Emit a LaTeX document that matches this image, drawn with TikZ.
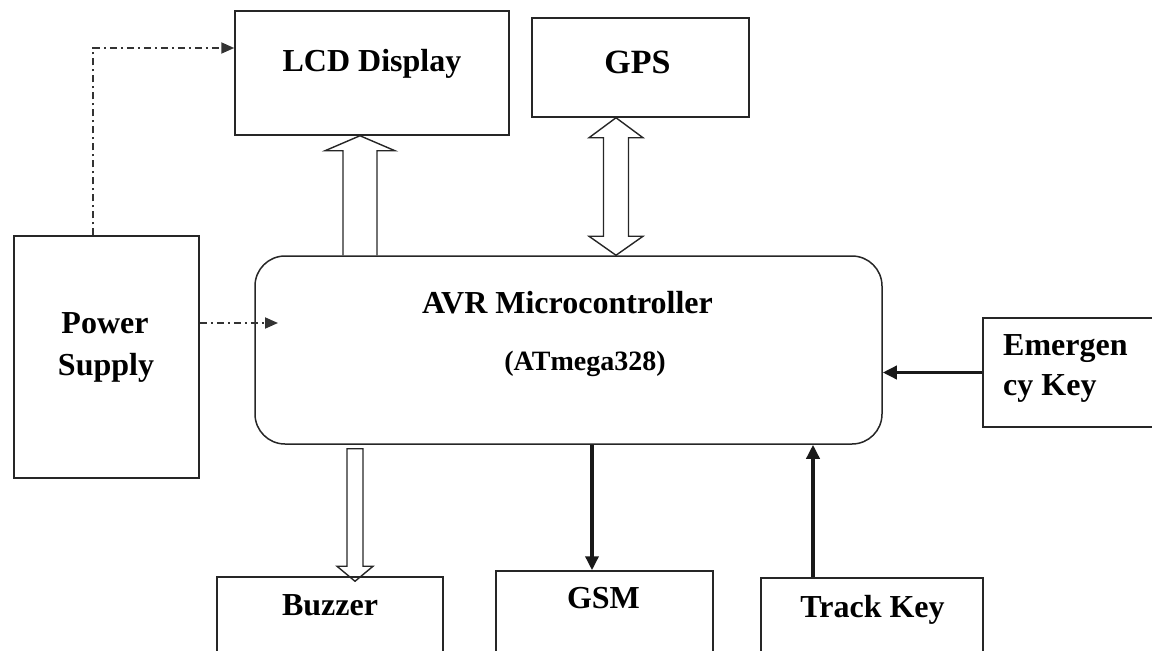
\documentclass[tikz,border=0pt]{standalone}
\usepackage{fontspec}
\setmainfont{Liberation Serif}
\usetikzlibrary{arrows.meta, calc, positioning}

\tikzset{
  box/.style={draw=black!85, line width=1.5pt, inner sep=0pt},
  txt/.style={font=\fontsize{32}{38}\selectfont\bfseries, inner sep=0pt, anchor=base},
  hollow/.style={draw=black!85, line width=1.4pt, line join=miter},
  bus/.style={line width=3.4pt, black!90, -{Triangle[length=14pt, width=13pt]}},
  supply/.style={line width=1.9pt, black!80, dash pattern=on 7pt off 4pt on 2pt off 4pt,
    -{Triangle[length=13pt, width=11pt]}}
}

\begin{document}
\begin{tikzpicture}[x=1pt, y=-1pt]
\useasboundingbox (0,0) rectangle (1152,651);

% blocks
\node[box, minimum width=274pt, minimum height=124pt] (lcd) at (372,73) {};
\node[box, minimum width=217pt, minimum height=99pt] (gps) at (640.5,67.5) {};
\node[box, rounded corners=30pt, minimum width=627pt, minimum height=188pt] (avr) at (568.5,350) {};
\node[box, minimum width=185pt, minimum height=242pt] (psu) at (106.5,357) {};
\node[box, minimum width=182pt, minimum height=109pt] (emkey) at (1074,372.5) {};
\node[box, minimum width=226pt, minimum height=123pt] (buzzer) at (330,638.5) {};
\node[box, minimum width=217pt, minimum height=129pt] (gsm) at (604.5,635.5) {};
\node[box, minimum width=222pt, minimum height=122pt] (trkey) at (872,639) {};

% labels
\node[txt] (lcdtxt) at (372,71) {LCD Display};
\node[txt, font=\fontsize{34}{40}\selectfont\bfseries] (gpstxt) at (637.5,73) {GPS};
\node[txt] (avrtxt) at (567.5,313) {AVR Microcontroller};
\node[txt, font=\fontsize{28}{34}\selectfont\bfseries] (mcutxt) at (585,370) {(ATmega328)};
\node[txt] (psutxt) at (105,333) {Power};
\node[txt] (psutxt2) at (106,375) {Supply};
\node[txt, anchor=base west] (emtxt) at (1003,355) {Emergen};
\node[txt, anchor=base west] (emtxt2) at (1003,395) {cy Key};
\node[txt] (bztxt) at (330,615) {Buzzer};
\node[txt] (gsmtxt) at (603.5,608) {GSM};
\node[txt] (trtxt) at (872.5,617) {Track Key};

% hollow bus arrows
\coordinate (lcdtip) at (lcd.south -| 360,0);
\coordinate (lcdfoot) at (avr.north -| 360,0);
\draw[hollow] ($(lcdfoot)+(-17,0)$) -- ($(lcdtip)+(-17,15)$) -- ($(lcdtip)+(-35,15)$) -- (lcdtip)
  -- ($(lcdtip)+(35,15)$) -- ($(lcdtip)+(17,15)$) -- ($(lcdfoot)+(17,0)$);

\coordinate (gpstip) at (gps.south -| 616,0);
\coordinate (gpsfoot) at (avr.north -| 616,0);
\draw[hollow] ($(gpstip)+(-12.5,20)$) -- ($(gpstip)+(-27,20)$) -- (gpstip) -- ($(gpstip)+(27,20)$)
  -- ($(gpstip)+(12.5,20)$) -- ($(gpsfoot)+(12.5,-19)$) -- ($(gpsfoot)+(27,-19)$) -- (gpsfoot)
  -- ($(gpsfoot)+(-27,-19)$) -- ($(gpsfoot)+(-12.5,-19)$) -- cycle;

\coordinate (bzfoot) at ($(avr.south -| 355,0)+(0,4)$);
\coordinate (bztip) at ($(buzzer.north -| 355,0)+(0,5)$);
\draw[hollow] ($(bzfoot)+(-8,0)$) -- ($(bztip)+(-8,-15)$) -- ($(bztip)+(-18,-15)$) -- (bztip)
  -- ($(bztip)+(18,-15)$) -- ($(bztip)+(8,-15)$) -- ($(bzfoot)+(8,0)$) -- cycle;

% signal lines
\draw[bus] (avr.south -| 592,0) -- (gsm.north -| 592,0);
\draw[bus] (trkey.north -| 813,0) -- (avr.south -| 813,0);
\draw[bus] (emkey.west) -- (emkey.west -| avr.east);

% supply lines
\coordinate (pin) at (278,323);
\draw[supply] (psu.east |- pin) -- (pin);
\draw[supply] (psu.north -| 93,0) |- (lcd.west |- 0,48);
\end{tikzpicture}
\end{document}
